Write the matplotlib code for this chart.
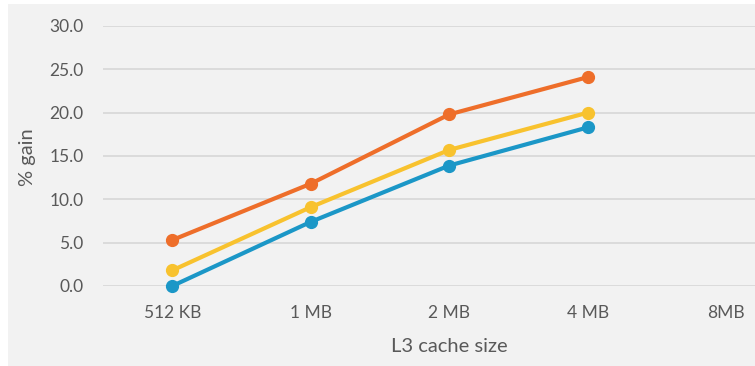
import numpy as np
import matplotlib.pyplot as plt
from matplotlib.patches import Rectangle

cache_sizes = ["512 KB", "1 MB", "2 MB", "4 MB", "8MB"]
orange_gain = [5.3, 11.8, 19.8, 24.1, np.nan]
yellow_gain = [1.8, 9.1, 15.7, 20.0, np.nan]
blue_gain = [0.0, 7.4, 13.9, 18.3, np.nan]
y_ticks = [0, 5, 10, 15, 20, 25, 30]

text_col = "#595959"
plt.rcParams['font.family'] = ['Lato', 'DejaVu Sans']

fig = plt.figure(figsize=(7.55, 3.66), dpi=100)
fig.patch.set_facecolor("white")
# grey chart area, slightly inset from the top-left corner
fig.patches.append(Rectangle((8 / 755, 0), 1, (366 - 4) / 366,
                             transform=fig.transFigure, facecolor="#f2f2f2",
                             edgecolor="none", zorder=-10))

# axes runs a little past the right edge (the picture is cropped there)
ax = fig.add_axes([103 / 755, 80 / 366, 692.5 / 755, 260 / 366])
ax.set_facecolor("none")

x = np.arange(len(cache_sizes))
for vals, col in [(blue_gain, "#1b97c7"), (yellow_gain, "#f8c22e"), (orange_gain, "#ee6e2a")]:
    ax.plot(x, vals, color=col, lw=3, marker="o", ms=8.5, clip_on=False, zorder=3)

ax.set_xlim(-0.5, len(cache_sizes) - 0.5)
ax.set_ylim(0, 30)
ax.set_yticks(y_ticks)
ax.set_yticklabels([f"{v:.1f}" for v in y_ticks])
ax.set_xticks(x)
ax.set_xticklabels(cache_sizes)
ax.grid(axis="y", color="#d9d9d9", lw=1.3)
ax.set_axisbelow(True)
for s in ax.spines.values():
    s.set_visible(False)
ax.tick_params(length=0, labelsize=12.5, labelcolor=text_col)
ax.tick_params(axis="y", pad=14)
ax.tick_params(axis="x", pad=14)

ax.set_xlabel("L3 cache size", fontsize=14.5, color=text_col, labelpad=12)
fig.text(27 / 755, 1 - 157 / 366, "% gain", rotation=90, fontsize=14.5,
         color=text_col, ha="center", va="center")

fig.savefig("out.png", dpi=100)
